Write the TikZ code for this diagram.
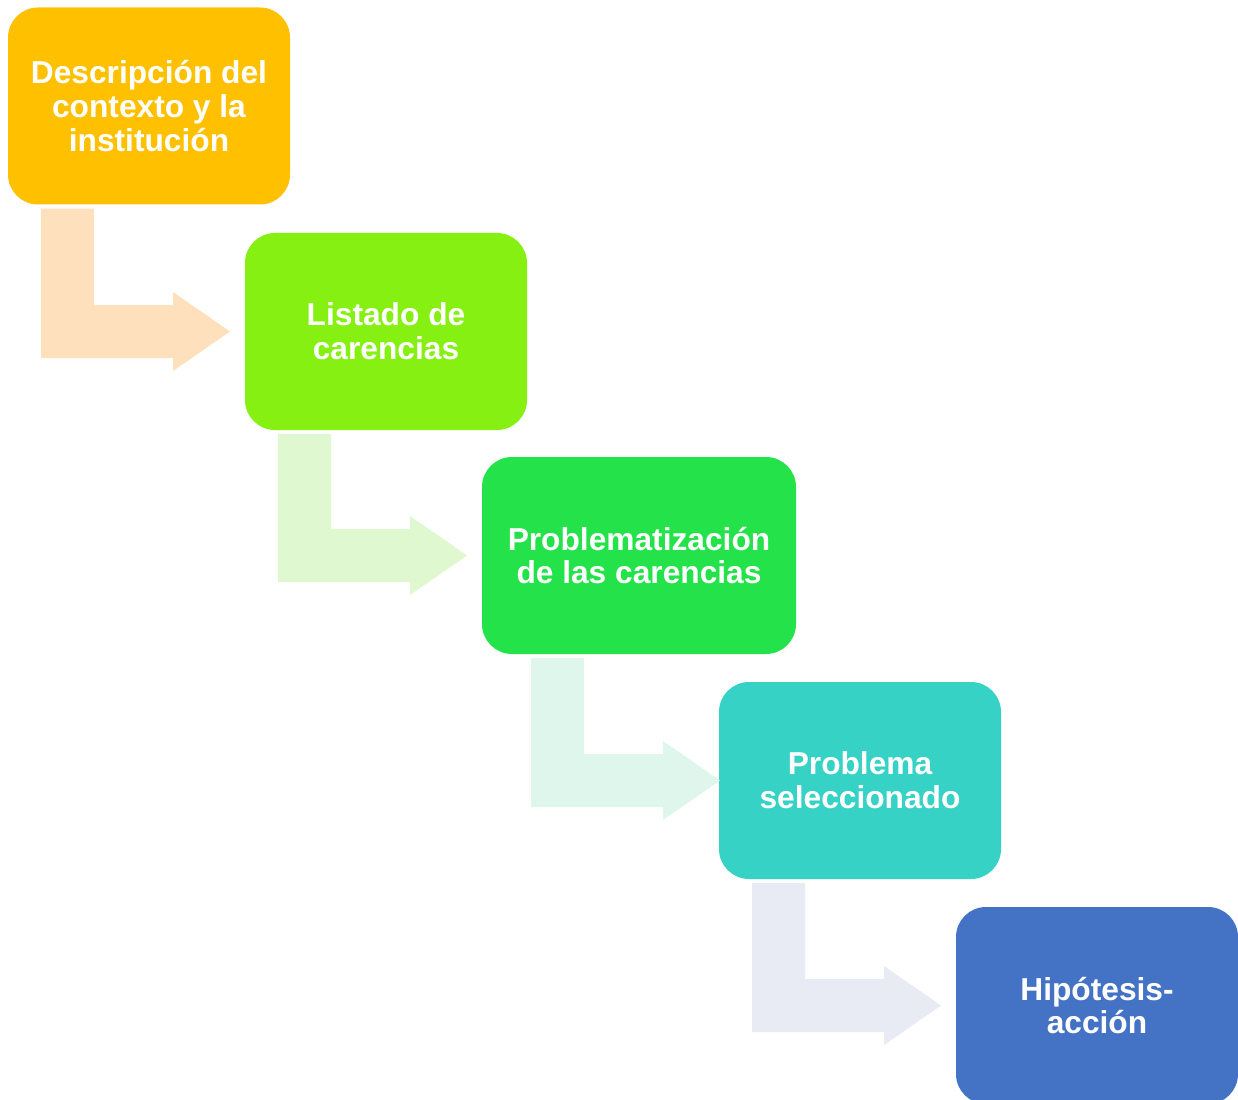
\documentclass[tikz,border=0pt]{standalone}
\usepackage{fontspec}
\setmainfont{Liberation Sans}
\usetikzlibrary{calc}
\definecolor{cOrange}{HTML}{FFC000}
\definecolor{cLime}{HTML}{86F013}
\definecolor{cGreen}{HTML}{24E24A}
\definecolor{cTeal}{HTML}{35D2C5}
\definecolor{cBlue}{HTML}{4472C4}
\definecolor{aPeach}{HTML}{FFE0BC}
\definecolor{aLime}{HTML}{DFF8D0}
\definecolor{aMint}{HTML}{DEF6EC}
\definecolor{aLav}{HTML}{E8EAF4}
\tikzset{
  stepbox/.style={rectangle, rounded corners=30pt, inner sep=0pt, align=center,
    minimum height=197pt, text=white,
    font=\fontsize{31.7}{33.7}\selectfont\bfseries},
}
\begin{document}
\begin{tikzpicture}[x=1pt,y=-1pt]
\useasboundingbox (0,0) rectangle (1238,1099);
\node[stepbox, fill=cOrange, minimum width=282pt] (b1) at (149,106) {Descripción del\\contexto y la\\institución};
\node[stepbox, fill=cLime, minimum width=282pt] (b2) at (386,331.5) {Listado de\\carencias};
\node[stepbox, fill=cGreen, minimum width=314pt] (b3) at (639,555.5) {Problematización\\de las carencias};
\node[stepbox, fill=cTeal, minimum width=282pt] (b4) at (860,780.5) {Problema\\seleccionado};
\node[stepbox, fill=cBlue, minimum width=282pt] (b5) at (1097,1005.5) {Hipótesis-\\acción};
\foreach \a/\b/\c in {b1/b2/aPeach, b2/b3/aLime, b3/b4/aMint, b4/b5/aLav}{
  \fill[\c] let \p1=(\a.south), \p2=(\b.west) in
    (\x1-108pt,\y1-4pt) -- (\x1-55pt,\y1-4pt) -- (\x1-55pt,\y2+26.5pt)
    -- (\x1+24pt,\y2+26.5pt) -- (\x1+24pt,\y2+39.5pt) -- (\x1+81pt,\y2)
    -- (\x1+24pt,\y2-39.5pt) -- (\x1+24pt,\y2-26.5pt) -- (\x1-108pt,\y2-26.5pt) -- cycle;
}
\end{tikzpicture}
\end{document}
